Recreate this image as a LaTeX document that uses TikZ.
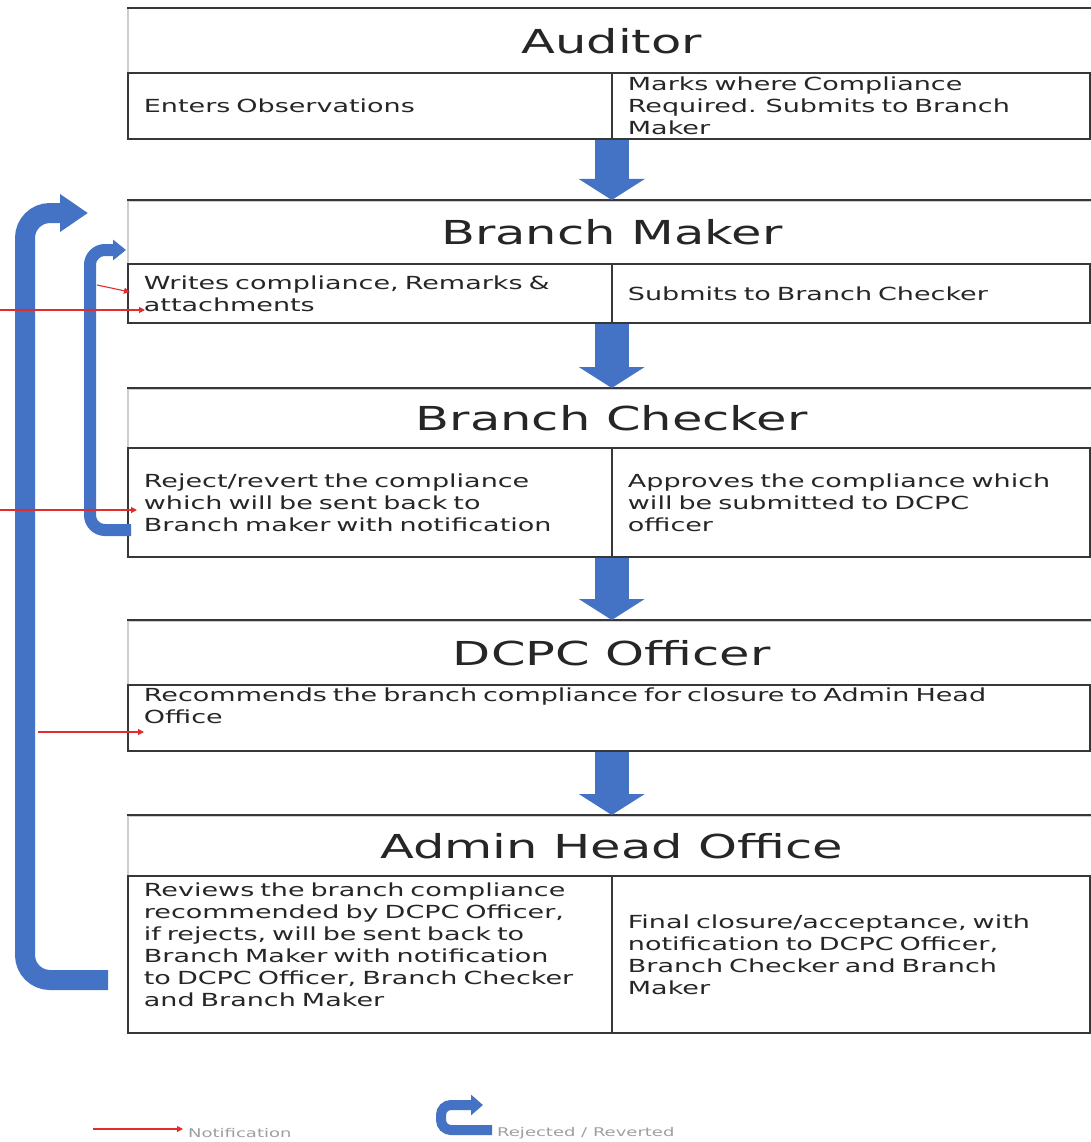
\documentclass[tikz,border=0pt]{standalone}
\usepackage{fontspec}
\setmainfont{DejaVu Sans}[FakeStretch=1.5]
\usepackage{xcolor}
\usepackage{tikz}
\usetikzlibrary{arrows.meta}

\definecolor{flowblue}{RGB}{68,114,196}
\definecolor{notifred}{RGB}{225,45,45}
\definecolor{boxgray}{RGB}{55,55,55}
\definecolor{lightedge}{RGB}{205,205,205}

\begin{document}
\begin{tikzpicture}[x=1pt, y=-1pt,
  boxline/.style={draw=boxgray, line width=1.8pt},
  titlebox/.style={draw=lightedge, line width=1.5pt, anchor=north west, minimum width=968pt,
    inner sep=0pt, text=black!85, font=\fontsize{33}{40}\selectfont},
  cellL/.style={boxline, anchor=north west, minimum width=484pt, text width=452pt,
    inner xsep=16pt, inner ysep=0pt, align=left, text=black!85, font=\fontsize{18}{22}\selectfont},
  cellR/.style={cellL, minimum width=478pt, text width=446pt},
  flow/.style={draw=flowblue, line width=34pt, -{Triangle[width=65pt, length=21pt]}},
  reject/.style={draw=flowblue, rounded corners=25pt, line width=20pt, -{Triangle[width=36pt, length=28pt]}},
  notif/.style={draw=notifred, line width=1.1pt, -{Triangle[width=6pt, length=6pt]}},
  legendtext/.style={text=gray!75, inner sep=0pt, anchor=west, font=\fontsize{12}{14}\selectfont}]

  \useasboundingbox[fill=white] (0,0) rectangle (1091,1142);

  % Auditor
  \node[titlebox, minimum height=64pt] (audT) at (127,8) {Auditor};
  \draw[boxline] (audT.north west) -- (audT.north east);
  \node[cellL, minimum height=66pt] (audL) at (127,72) {Enters Observations};
  \node[cellR, minimum height=66pt] (audR) at (611,72)
    {Marks where Compliance\\Required. Submits to Branch\\Maker};

  % Branch Maker
  \node[titlebox, minimum height=63pt] (bmT) at (127,200) {Branch Maker};
  \draw[boxline] (bmT.north west) -- (bmT.north east);
  \node[cellL, minimum height=59pt] (bmL) at (127,263) {Writes compliance, Remarks \&\\attachments};
  \node[cellR, minimum height=59pt] (bmR) at (611,263) {Submits to Branch Checker};

  % Branch Checker
  \node[titlebox, minimum height=59pt] (bcT) at (127,388) {Branch Checker};
  \draw[boxline] (bcT.north west) -- (bcT.north east);
  \node[cellL, minimum height=109pt] (bcL) at (127,447)
    {Reject/revert the compliance\\which will be sent back to\\Branch maker with notification};
  \node[cellR, minimum height=109pt] (bcR) at (611,447)
    {Approves the compliance which\\will be submitted to DCPC\\officer};

  % DCPC Officer
  \node[titlebox, minimum height=64pt] (dcpcT) at (127,620) {DCPC Officer};
  \draw[boxline] (dcpcT.north west) -- (dcpcT.north east);
  \node[cellL, minimum height=66pt, minimum width=962pt, text width=930pt] (dcpcB) at (127,684)
    {Recommends the branch compliance for closure to Admin Head\\Office\rule[-24pt]{0pt}{24pt}};

  % Admin Head Office
  \node[titlebox, minimum height=60pt] (ahoT) at (127,815) {Admin Head Office};
  \draw[boxline] (ahoT.north west) -- (ahoT.north east);
  \node[cellL, minimum height=157pt] (ahoL) at (127,875)
    {Reviews the branch compliance\\recommended by DCPC Officer,\\if rejects, will be sent back to\\Branch Maker with notification\\to DCPC Officer, Branch Checker\\and Branch Maker\rule[-20pt]{0pt}{20pt}};
  \node[cellR, minimum height=157pt] (ahoR) at (611,875)
    {Final closure/acceptance, with\\notification to DCPC Officer,\\Branch Checker and Branch\\Maker};

  % flow arrows
  \draw[flow] (bmT.north |- audL.south) -- (bmT.north);
  \draw[flow] (bcT.north |- bmL.south) -- (bcT.north);
  \draw[flow] (dcpcT.north |- bcL.south) -- (dcpcT.north);
  \draw[flow] (ahoT.north |- dcpcB.south) -- (ahoT.north);

  % rejected / reverted
  \coordinate (revBig) at (108,980);
  \coordinate (revBigEnd) at (88,213);
  \draw[reject] (revBig) -- (25,980) -- (25,213) -- (revBigEnd);
  \coordinate (revSmall) at (131,530);
  \coordinate (revSmallEnd) at (126,250);
  \draw[reject, line width=12pt, rounded corners=15pt, -{Triangle[width=20pt, length=13pt]}]
    (revSmall) -- (90,530) -- (90,250) -- (revSmallEnd);

  % notifications
  \coordinate (n1s) at (97,285);
  \coordinate (n1e) at (130,292);
  \coordinate (n2s) at (0,310);
  \coordinate (n2e) at (145,310);
  \coordinate (n3s) at (0,510);
  \coordinate (n3e) at (137,510);
  \coordinate (n4s) at (38,732);
  \coordinate (n4e) at (144,732);
  \draw[notif] (n1s) -- (n1e);
  \draw[notif] (n2s) -- (n2e);
  \draw[notif] (n3s) -- (n3e);
  \draw[notif] (n4s) -- (n4e);

  % legend
  \coordinate (lgNs) at (93,1129);
  \coordinate (lgNe) at (183,1129);
  \draw[notif] (lgNs) -- (lgNe);
  \node[legendtext] (lgNotif) at (188,1133) {Notification};
  \coordinate (lgRs) at (492,1130);
  \coordinate (lgRe) at (483,1105);
  \draw[reject, line width=10pt, rounded corners=10pt, -{Triangle[width=20pt, length=12pt]}]
    (lgRs) -- (441,1130) -- (441,1105) -- (lgRe);
  \node[legendtext] (lgRej) at (497,1133) {Rejected / Reverted};

\end{tikzpicture}
\end{document}
